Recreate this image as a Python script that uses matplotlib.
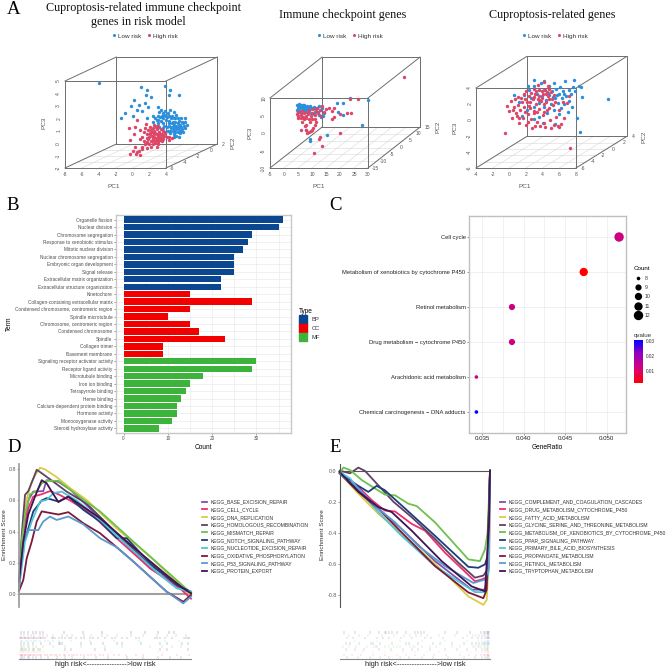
import numpy as np
import matplotlib
matplotlib.use('Agg')
import matplotlib.pyplot as plt
from matplotlib.lines import Line2D
from matplotlib.patches import Patch
from matplotlib.colors import LinearSegmentedColormap, Normalize
from matplotlib.cm import ScalarMappable

plt.rcParams['font.family'] = ['Liberation Sans', 'DejaVu Sans']

# ---- panel A, points read as (PC1, PC3) on the front plane of each box
a1_low = [(-4.0,4.8),(1.0,4.5),(1.8,4.3),(3.9,4.6),(4.5,4.25),(4.4,3.9),(5.5,3.9),(0.2,3.5),(1.6,3.85),(2.2,3.7),
          (-0.2,3.0),(0.8,3.1),(1.5,3.2),(1.9,2.9),(0.6,2.7),(-0.9,2.4),(-1.3,2.0),(0.1,2.2),(1.2,2.6),(1.8,2.0),
          (2.4,2.2),(2.9,1.9),(3.1,2.9),(3.2,2.5),(3.5,2.2),(3.9,2.6),(4.2,2.4),(4.5,2.7),(4.9,2.5),(5.2,2.3),
          (5.4,2.0),(5.8,2.0),(6.3,2.0),(6.5,1.5),(3.0,1.6),(3.4,1.8),(3.7,1.6),(4.0,1.9),(4.3,1.8),(4.6,2.0),
          (4.8,1.7),(5.1,1.7),(5.4,1.6),(5.7,1.5),(6.0,1.6),(4.1,1.3),(4.4,1.4),(4.7,1.3),(5.0,1.3),(5.3,1.2),
          (5.6,1.2),(5.9,1.1),(6.2,1.2),(4.2,1.0),(4.5,1.0),(4.8,1.0),(5.1,0.9),(5.4,0.9),(5.7,0.8),(6.0,0.9),
          (4.9,0.7),(5.2,0.6),(5.5,0.5),(3.6,1.2),(3.9,0.9),(2.5,1.7),(2.7,2.0),(3.3,2.1),(3.6,2.0),(4.0,2.2),
          (4.4,1.6),(4.7,1.6),(5.0,1.5),(5.2,1.4),(5.5,1.4),(5.8,1.3),(6.1,1.4),(4.6,1.2),(4.9,1.1),(5.2,1.1),
          (5.5,1.0),(5.8,1.0),(4.5,0.8),(5.0,0.5),(3.8,1.4),(3.2,1.3),(2.9,1.4),(3.0,2.2),(3.7,2.4),(4.7,2.2),
          (3.4,2.7),(3.8,2.3),(4.1,2.1),(4.4,2.2),(4.9,2.0),(5.1,2.0),(5.6,1.8),(5.9,1.7),(6.2,1.7),(3.1,1.9)]
a1_high = [(-0.4,1.25),(0.55,1.9),(0.36,1.3),(0.87,1.03),(0.16,0.76),(-0.3,0.23),(1.66,1.57),(2.6,1.5),(1.35,0.9),(1.9,1.05),
           (-0.24,-0.84),(0.08,-0.63),(0.75,-0.63),(0.95,-0.98),(0.48,-0.9),(1.15,-0.3),(1.75,-0.4),(2.2,-0.3),(2.93,-0.3),(3.3,0.23),
           (1.7,0.7),(2.0,0.5),(2.3,0.9),(2.6,0.7),(2.9,1.1),(3.2,0.9),(3.5,0.7),(3.8,0.6),(4.1,0.5),(4.4,0.5),
           (4.7,0.4),(2.1,1.3),(2.5,1.2),(2.8,1.3),(3.1,1.4),(3.4,1.1),(2.2,0.2),(2.5,0.3),(2.8,0.4),(3.1,0.5),
           (3.4,0.4),(3.7,0.3),(2.4,-0.1),(2.7,0.0),(3.0,0.1),(1.4,0.2),(1.7,0.1),(1.2,0.5),(0.9,0.3),(2.0,-0.1),
           (1.5,-0.1),(3.3,0.7),(3.6,0.95),(2.6,0.5),(2.9,0.75),(2.3,0.6),(1.9,0.3),(3.0,-0.1),(0.3,-0.3),(0.6,-0.75),
           (3.9,0.85),(4.3,0.25),(2.1,0.85),(1.55,1.2),(2.75,0.15),(3.5,0.15),(2.55,0.95),(3.2,0.3),(1.1,-0.5),(2.35,0.15),
           (2.7,0.85),(3.05,0.65),(3.3,0.5),(3.6,0.55),(2.4,0.45),(2.05,0.7),(1.8,0.45),(2.9,0.25),(3.15,0.75),(2.2,1.05)]

a2_low = [(4.6,7.9),(5.2,8.2),(5.7,7.7),(6.2,8.1),(6.8,7.9),(7.3,8.1),(4.9,7.2),(5.5,7.3),(6.1,7.4),(6.7,7.2),
          (7.2,7.5),(7.8,7.4),(8.3,7.8),(8.9,7.3),(9.4,7.8),(4.6,6.5),(5.2,6.7),(5.8,6.4),(6.4,6.6),(7.0,6.7),
          (7.6,6.5),(8.2,6.9),(8.8,6.6),(9.4,6.8),(10.0,7.1),(10.6,7.5),(11.2,7.2),(11.8,7.0),(12.5,7.6),(13.5,7.2),
          (5.0,5.9),(5.6,6.0),(6.2,5.8),(7.4,5.9),(8.6,5.9),(9.8,5.8),(11.0,6.0),(12.2,6.1),(13.2,6.6),(14.2,5.6),
          (10.6,5.4),(12.6,5.0),(14.0,4.9),(13.2,4.6),(19.0,8.5),(21.0,8.5),(23.4,9.9),(30.0,9.5),(19.2,6.0),(21.0,5.2),
          (27.9,2.2),(15.3,-0.5),(9.3,-1.7),(9.3,-2.4),(8.0,1.0)]
a2_high = [(4.6,5.5),(5.1,4.8),(5.5,6.0),(6.0,5.2),(6.4,6.3),(6.9,4.6),(7.3,5.6),(7.8,4.9),(8.2,6.1),(8.7,5.3),
           (9.1,6.6),(9.6,4.8),(10.0,5.7),(10.5,6.9),(11.0,5.2),(11.4,6.3),(11.9,7.2),(12.3,5.6),(12.8,6.6),(13.2,4.9),
           (13.7,7.6),(14.2,6.1),(15.0,6.9),(16.0,7.1),(17.0,6.4),(18.0,7.0),(17.7,4.5),(17.3,4.1),(20.0,5.3),(24.0,5.6),
           (22.5,5.6),(5.0,4.2),(6.0,4.4),(7.0,4.0),(8.0,4.2),(9.0,3.9),(10.0,4.0),(11.2,4.1),(6.4,3.0),(7.7,2.3),
           (6.1,0.8),(11.5,3.0),(11.0,2.2),(10.5,1.4),(10.0,0.9),(9.5,0.5),(8.9,0.3),(8.3,0.1),(7.9,1.0),(7.5,2.0),
           (23.4,9.8),(26.3,9.8),(43.0,16.0),(20.0,0.0),(13.0,-1.0),(12.4,-1.8),(13.6,-3.6),(10.6,-5.7),(5.0,5.9),(9.4,3.1)]

a3_low = [(0.6,3.1),(1.2,2.2),(1.7,3.1),(2.1,1.3),(2.3,3.7),(2.6,2.7),(2.9,1.6),(3.0,4.2),(3.3,3.3),(3.5,2.1),
          (3.6,0.4),(3.8,4.6),(3.9,3.0),(4.1,1.6),(4.2,3.7),(4.4,2.5),(4.5,0.9),(4.7,4.2),(4.8,3.1),(5.0,2.0),
          (5.1,3.6),(5.3,1.2),(5.4,4.6),(5.5,2.7),(5.6,3.9),(5.8,2.1),(5.9,3.2),(6.0,0.7),(6.1,4.1),(6.2,1.5),
          (6.3,2.7),(6.4,3.6),(6.6,2.0),(6.7,4.9),(6.8,3.0),(7.0,1.0),(7.1,3.8),(7.2,2.4),(7.4,3.3),(7.5,1.6),
          (7.6,4.1),(7.7,5.05),(7.9,3.6),(8.1,0.2),(8.3,4.3),(8.5,-1.54),(8.6,4.1),(8.76,2.82),(11.8,2.57),(5.5,-0.5),
          (4.0,-0.4),(2.9,0.1),(1.5,0.5),(4.6,3.4),(5.2,2.9),(5.7,3.1),(6.5,3.2),(4.2,4.9),(3.0,5.0),(2.2,4.2)]
a3_high = [(-0.48,-1.67),(7.3,-3.56),(-0.28,1.77),(0.0,1.1),(0.2,2.4),(0.3,0.3),(0.5,1.6),(0.7,2.6),(0.8,0.9),(1.0,1.9),
           (1.1,-0.4),(1.3,1.2),(1.4,2.8),(1.6,0.3),(1.7,1.6),(1.8,3.3),(2.0,-0.6),(2.1,2.3),(2.2,0.8),(2.4,3.0),
           (2.5,1.5),(2.7,-1.0),(2.8,2.6),(2.9,3.9),(3.0,0.9),(3.2,2.0),(3.3,-0.3),(3.4,4.4),(3.5,3.0),(3.6,1.4),
           (3.7,-0.7),(3.8,2.4),(3.9,3.6),(4.0,0.6),(4.1,4.7),(4.2,2.0),(4.3,-0.9),(4.4,3.2),(4.5,1.3),(4.6,4.3),
           (4.7,2.6),(4.9,0.0),(5.0,3.5),(5.2,1.9),(5.3,-0.6),(5.5,2.3),(5.6,0.4),(5.8,-0.8),(6.0,1.3),(6.2,-0.5),
           (6.4,2.2),(6.6,0.2),(6.9,2.1),(7.1,3.0),(2.6,3.4),(3.1,3.2),(3.4,2.6),(3.9,2.8),(4.3,3.7),(4.8,3.9),
           (1.5,2.2),(2.3,1.8),(2.9,1.1),(0.9,0.5),(3.6,3.8),(4.6,3.0),(5.1,2.6),(1.9,1.0),(2.6,0.1),(4.1,1.0),
           (1.0,2.9),(1.9,2.6),(2.5,2.2),(3.0,2.9),(3.3,1.0),(3.6,2.5),(4.0,3.2),(4.4,2.3),(4.8,1.5),(5.4,3.1),
           (0.4,1.2),(1.2,0.2),(2.2,-0.2),(3.1,-0.7),(4.1,-0.4),(5.0,-1.0),(6.0,-0.9),(2.0,3.6),(3.2,3.6),(4.5,3.5)]

# ---- panel B
b_terms = ['Organelle fission', 'Nuclear division', 'Chromosome segregation', 'Response to xenobiotic stimulus',
           'Mitotic nuclear division', 'Nuclear chromosome segregation', 'Embryonic organ development', 'Signal release',
           'Extracellular matrix organization', 'Extracellular structure organization', 'Kinetochore',
           'Collagen-containing extracellular matrix', 'Condensed chromosome, centromeric region', 'Spindle microtubule',
           'Chromosome, centromeric region', 'Condensed chromosome', 'Spindle', 'Collagen trimer', 'Basement membrane',
           'Signaling receptor activator activity', 'Receptor ligand activity', 'Microtubule binding', 'Iron ion binding',
           'Tetrapyrrole binding', 'Heme binding', 'Calcium-dependent protein binding', 'Hormone activity',
           'Monooxygenase activity', 'Steroid hydroxylase activity']
b_counts = [36, 35, 29, 28, 27, 25, 25, 25, 22, 22, 15, 29, 15, 10, 15, 17, 23, 9, 9, 30, 29, 18, 15, 14, 13, 12, 12, 11, 8]
b_types = ['BP'] * 10 + ['CC'] * 9 + ['MF'] * 10
b_colors = {'BP': '#0b4690', 'CC': '#f20000', 'MF': '#3cb43c'}

# ---- panel C
c_terms = ['Cell cycle', 'Metabolism of xenobiotics by cytochrome P450', 'Retinol metabolism',
           'Drug metabolism \u2212 cytochrome P450', 'Arachidonic acid metabolism',
           'Chemical carcinogenesis \u2212 DNA adducts']
c_ratio = [0.05147, 0.04722, 0.0386, 0.0386, 0.03433, 0.03433]
c_count = [12, 11, 9, 9, 8, 8]
c_q = [0.0125, 0.002, 0.0125, 0.0125, 0.0125, 0.0305]
c_legend_count = [8, 9, 10, 11, 12]
c_diam = {8: 3.6, 9: 6.2, 10: 7.3, 11: 8.3, 12: 9.4}

# ---- panel D
d_names = ['KEGG_BASE_EXCISION_REPAIR', 'KEGG_CELL_CYCLE', 'KEGG_DNA_REPLICATION', 'KEGG_HOMOLOGOUS_RECOMBINATION',
           'KEGG_MISMATCH_REPAIR', 'KEGG_NOTCH_SIGNALING_PATHWAY', 'KEGG_NUCLEOTIDE_EXCISION_REPAIR',
           'KEGG_OXIDATIVE_PHOSPHORYLATION', 'KEGG_P53_SIGNALING_PATHWAY', 'KEGG_PROTEIN_EXPORT']
gsea_colors = ['#7b52ab', '#ea2f72', '#dccb45', '#5f4362', '#6cc24c', '#1f3d7a', '#4ec6d8', '#7c1a3c', '#5a9ad0', '#3f1450']

d_base = ([0, .025, .054, .083, .141, .161, .229, .297, .393, .568, .762, .955, 1],
          [.08, .40, .60, .657, .66, .73, .72, .67, .57, .38, .165, .026, .005])
d_cell = ([0, .025, .054, .083, .132, .180, .229, .297, .413, .568, .762, .936, 1],
          [.036, .36, .55, .625, .64, .66, .64, .60, .52, .358, .165, .036, -.03])
d_dna = ([.006, .025, .045, .074, .093, .122, .151, .219, .297, .397, .568, .762, .926, 1],
         [.23, .44, .61, .72, .76, .81, .80, .75, .68, .60, .42, .24, .07, -.01])
d_homo = ([0, .016, .035, .054, .083, .103, .132, .2, .277, .393, .568, .762, .955, 1],
          [.058, .38, .636, .66, .74, .797, .775, .72, .657, .58, .39, .186, .036, .005])
d_mismatch = ([0, .016, .035, .064, .103, .132, .161, .229, .297, .393, .471, .665, .926, 1],
              [.015, .34, .51, .64, .66, .71, .726, .726, .67, .59, .53, .336, .08, .005])
d_notch = ([0, .025, .054, .083, .132, .161, .229, .287, .374, .471, .568, .626, .762, .917, 1],
           [.058, .315, .42, .53, .60, .615, .593, .625, .54, .465, .358, .358, .197, .058, .015])
d_nucleo = ([0, .035, .074, .122, .161, .2, .248, .335, .451, .626, .82, .917, 1],
            [.036, .336, .465, .593, .604, .647, .657, .60, .497, .315, .122, .036, .015])
d_oxphos = ([0, .025, .045, .074, .103, .132, .180, .229, .287, .374, .471, .568, .665, .858, .955, 1],
            [.02, .09, .23, .336, .465, .53, .52, .51, .525, .454, .39, .30, .208, .015, -.05, -.006])
d_p53 = ([0, .025, .054, .112, .141, .180, .219, .287, .374, .471, .568, .665, .858, .955, 1],
         [.036, .336, .41, .41, .465, .497, .475, .497, .447, .358, .30, .208, .015, -.06, -.017])
d_export = ([0, .025, .054, .093, .132, .161, .2, .229, .287, .471, .665, .858, .955, 1],
            [.08, .336, .51, .625, .73, .71, .64, .59, .625, .486, .30, .122, .036, .005])
d_curves = [d_base, d_cell, d_dna, d_homo, d_mismatch, d_notch, d_nucleo, d_oxphos, d_p53, d_export]

d_rug_base = [.01,.02,.03,.05,.06,.08,.1,.13,.17,.22,.27,.31,.38,.45,.52,.63,.72,.81,.88,.94]
d_rug_cell = [.005,.01,.015,.02,.03,.035,.04,.05,.06,.065,.07,.08,.09,.1,.11,.12,.13,.15,.16,.18,.19,.21,.22,.24,.26,
              .27,.29,.31,.32,.34,.36,.38,.4,.42,.44,.47,.49,.52,.55,.58,.62,.68,.72,.83,.92,.99]
d_rug_dna = [.005,.015,.025,.03,.04,.05,.06,.07,.08,.09,.1,.11,.12,.14,.26,.28,.54,.81,.84]
d_rug_homo = [.01,.02,.03,.04,.06,.08,.09,.11,.12,.27,.3,.44,.5,.82,.86,.98]
d_rug_mismatch = [.01,.02,.03,.05,.06,.08,.1,.14,.2,.27,.36,.5,.6,.76,.83,.89,.94]
d_rug_notch = [.01,.03,.05,.08,.13,.18,.23,.24,.25,.36,.42,.49,.57,.6,.71,.82,.86,.95,.98]
d_rug_nucleo = [.01,.02,.04,.05,.07,.09,.1,.12,.15,.17,.2,.23,.3,.41,.55,.7,.85,.93]
d_rug_oxphos = [.005,.01,.02,.03,.035,.04,.05,.06,.07,.08,.09,.1,.11,.12,.13,.14,.15,.19,.2,.21,.23,.25,.27,.29,.3,.33,
                .36,.38,.41,.43,.46,.5,.54,.56,.6,.63,.68,.7,.79,.8,.82,.85,.89,.96,.97,.98,.99]
d_rug_p53 = [.01,.03,.05,.07,.09,.12,.14,.16,.2,.25,.28,.31,.38,.42,.48,.51,.57,.65,.72,.8,.86,.91,.97]
d_rug_export = [.01,.03,.05,.08,.1,.12,.14,.26,.37,.48,.65,.73,.81,.87,.9]
d_rugs = [d_rug_base, d_rug_cell, d_rug_dna, d_rug_homo, d_rug_mismatch, d_rug_notch, d_rug_nucleo, d_rug_oxphos, d_rug_p53, d_rug_export]

# ---- panel E
e_names = ['KEGG_COMPLEMENT_AND_COAGULATION_CASCADES', 'KEGG_DRUG_METABOLISM_CYTOCHROME_P450', 'KEGG_FATTY_ACID_METABOLISM',
           'KEGG_GLYCINE_SERINE_AND_THREONINE_METABOLISM', 'KEGG_METABOLISM_OF_XENOBIOTICS_BY_CYTOCHROME_P450',
           'KEGG_PPAR_SIGNALING_PATHWAY', 'KEGG_PRIMARY_BILE_ACID_BIOSYNTHESIS', 'KEGG_PROPANOATE_METABOLISM',
           'KEGG_RETINOL_METABOLISM', 'KEGG_TRYPTOPHAN_METABOLISM']

e_comp = ([0, .124, .235, .412, .634, .878, .967, .994, 1], [-.006, -.126, -.224, -.376, -.583, -.767, -.767, -.615, 0])
e_drug = ([0, .102, .213, .30, .368, .479, .568, .70, .90, .956, .984, 1], [-.017, -.083, -.19, -.257, -.263, -.343, -.387, -.528, -.713, -.698, -.68, 0])
e_fatty = ([0, .124, .257, .479, .70, .856, .956, .978, .993, 1], [-.017, -.148, -.278, -.463, -.659, -.811, -.865, -.833, -.57, 0])
e_glycine = ([0, .069, .124, .169, .246, .357, .479, .634, .789, .90, .956, .984, 1], [0, -.017, .02, -.002, -.083, -.2, -.3, -.44, -.593, -.69, -.676, -.637, 0])
e_xeno = ([0, .024, .069, .146, .235, .30, .368, .457, .512, .634, .856, .933, .967, .984, 1],
          [-.017, .02, .004, -.06, -.115, -.154, -.159, -.213, -.228, -.333, -.572, -.583, -.507, -.398, 0])
e_ppar = ([0, .08, .19, .246, .30, .412, .523, .634, .856, .922, .967, .984, 1], [-.006, -.072, -.137, -.098, -.126, -.224, -.322, -.42, -.62, -.626, -.604, -.55, 0])
e_bile = ([0, .069, .169, .257, .412, .634, .90, .967, .989, 1], [-.01, -.05, -.17, -.267, -.42, -.615, -.783, -.783, -.659, 0])
e_propa = ([0, .124, .257, .412, .634, .856, .956, .978, 1], [-.017, -.137, -.246, -.398, -.615, -.785, -.822, -.767, 0])
e_retinol = ([0, .035, .102, .191, .257, .368, .523, .70, .889, .967, .989, 1], [-.017, -.05, -.093, -.18, -.246, -.333, -.485, -.615, -.724, -.702, -.637, 0])
e_trypto = ([0, .124, .257, .346, .479, .678, .878, .967, .993, 1], [-.01, -.133, -.235, -.267, -.387, -.583, -.746, -.778, -.354, 0])
e_curves = [e_comp, e_drug, e_fatty, e_glycine, e_xeno, e_ppar, e_bile, e_propa, e_retinol, e_trypto]

e_rug_comp = [.05,.12,.2,.27,.33,.4,.46,.55,.62,.72,.83,.9,.95,.97,.98,.99,.995]
e_rug_drug = [.03,.08,.14,.22,.3,.38,.44,.5,.56,.63,.71,.8,.86,.91,.94,.96,.97,.98,.985,.99,.995]
e_rug_fatty = [.15,.22,.3,.35,.42,.5,.58,.66,.72,.81,.87,.92,.95,.97,.98,.985,.99,.995]
e_rug_glycine = [.04,.1,.16,.26,.34,.42,.48,.52,.6,.7,.78,.85,.91,.95,.97,.98,.99]
e_rug_xeno = [.02,.06,.11,.18,.23,.24,.25,.3,.33,.36,.38,.4,.47,.49,.5,.55,.6,.64,.75,.8,.89,.9,.92,.93,.94,.96,.97,.98,.985,.99]
e_rug_ppar = [.04,.07,.13,.21,.22,.27,.35,.44,.46,.52,.62,.67,.75,.83,.88,.91,.93,.95,.96,.97,.98,.99,.995]
e_rug_bile = [.1,.25,.4,.55,.7,.85,.92,.95,.97,.98,.985,.99,.995]
e_rug_propa = [.05,.09,.17,.25,.29,.33,.41,.48,.57,.61,.69,.82,.88,.92,.95,.97,.98,.985,.99,.995]
e_rug_retinol = [.06,.13,.19,.28,.36,.43,.47,.51,.54,.58,.66,.77,.85,.89,.91,.93,.95,.96,.97,.98,.985,.99,.995]
e_rug_trypto = [.03,.1,.2,.26,.3,.31,.33,.35,.38,.44,.5,.52,.54,.56,.7,.78,.87,.94,.96,.97,.98,.985,.99,.995]
e_rugs = [e_rug_comp, e_rug_drug, e_rug_fatty, e_rug_glycine, e_rug_xeno, e_rug_ppar, e_rug_bile, e_rug_propa, e_rug_retinol, e_rug_trypto]

W = 669.0
fig = plt.figure(figsize=(6.69, 6.69), dpi=100)


def axpx(x0, y0, x1, y1):
    return fig.add_axes([x0 / W, 1 - y1 / W, (x1 - x0) / W, (y1 - y0) / W])


def tpx(x, y, s, **kw):
    kw.setdefault('ha', 'center')
    kw.setdefault('va', 'center')
    fig.text(x / W, 1 - y / W, s, **kw)


SERIF = ['Liberation Serif', 'DejaVu Serif']
LOW_C = '#2b8fdb'
HIGH_C = '#de4668'
BOX_C = '#6e6e6e'
TICK_T = '#555555'

for lab, lx, ly in [('A', 14, 9), ('B', 13, 206), ('C', 336, 206), ('D', 14, 448), ('E', 335, 448)]:
    tpx(lx, ly, lab, family=SERIF, fontsize=13.5, color='black')

tpx(143, 8, 'Cuproptosis-related immune checkpoint', family=SERIF, fontsize=8.7, color='#111111')
tpx(138, 22, 'genes in risk model', family=SERIF, fontsize=8.7, color='#111111')
tpx(343, 15, 'Immune checkpoint genes', family=SERIF, fontsize=8.7, color='#111111')
tpx(552, 15, 'Cuproptosis-related genes', family=SERIF, fontsize=8.7, color='#111111')


def box3d(rect, xlim, zlim, depth_x, depth_z, xticks, zticks, yticks, ylabels,
          low, high, legend_x, pc1_at, pc3_at, pc2_at, ylab_step):
    ax = axpx(*rect)
    ax.set_xlim(*xlim)
    ax.set_ylim(*zlim)
    ax.axis('off')
    x0, x1 = xlim
    z0, z1 = zlim
    lw = 0.7
    # floor grid
    for p in yticks:
        ax.plot([x0 + p * depth_x, x1 + p * depth_x], [z0 + p * depth_z] * 2, color='#d8d8d8', lw=0.4, clip_on=False, zorder=1)
    for xt in xticks:
        ax.plot([xt, xt + depth_x], [z0, z0 + depth_z], color='#d8d8d8', lw=0.4, clip_on=False, zorder=1)
    # back face and front face
    for dx, dz in [(depth_x, depth_z), (0, 0)]:
        ax.plot([x0 + dx, x1 + dx, x1 + dx, x0 + dx, x0 + dx], [z0 + dz, z0 + dz, z1 + dz, z1 + dz, z0 + dz],
                color=BOX_C, lw=lw, clip_on=False, zorder=2)
    for xx, zz in [(x0, z0), (x1, z0), (x0, z1), (x1, z1)]:
        ax.plot([xx, xx + depth_x], [zz, zz + depth_z], color=BOX_C, lw=lw, clip_on=False, zorder=2)
    low = np.array(low)
    high = np.array(high)
    ax.scatter(low[:, 0], low[:, 1], s=6, color=LOW_C, lw=0, clip_on=False, zorder=3)
    ax.scatter(high[:, 0], high[:, 1], s=6, color=HIGH_C, lw=0, clip_on=False, zorder=4)
    # tick labels
    for xt in xticks:
        ax.annotate(str(xt), (xt, z0), xytext=(0, -3.2), textcoords='offset points', ha='center', va='top',
                    fontsize=3.6, color=TICK_T, annotation_clip=False)
    for zt in zticks:
        ax.annotate(str(zt), (x0, zt), xytext=(-4.5, 0), textcoords='offset points', ha='center', va='center',
                    fontsize=3.6, color=TICK_T, rotation=90, annotation_clip=False)
    for p, s in zip(yticks, ylabels):
        ax.annotate(s, (x1 + p * depth_x, z0 + p * depth_z), xytext=(ylab_step, 0), textcoords='offset points',
                    ha='center', va='center', fontsize=3.6, color=TICK_T, annotation_clip=False)
    tpx(pc1_at[0], pc1_at[1], 'PC1', fontsize=4.6, color=TICK_T)
    tpx(pc3_at[0], pc3_at[1], 'PC3', fontsize=4.6, color=TICK_T, rotation=90)
    tpx(pc2_at[0], pc2_at[1], 'PC2', fontsize=4.6, color=TICK_T, rotation=90)
    handles = [Line2D([], [], marker='o', ls='', ms=2.2, color=LOW_C, mew=0, label='Low risk'),
               Line2D([], [], marker='o', ls='', ms=2.2, color=HIGH_C, mew=0, label='High risk')]
    fig.legend(handles=handles, loc='center', bbox_to_anchor=(legend_x / W, 1 - 36 / W), ncol=2, frameon=False,
               fontsize=4.6, handletextpad=0.1, columnspacing=0.6, labelcolor='#333333', borderpad=0, handlelength=1.2)


box3d((65, 81, 166, 168), (-8, 4), (-2, 5), 6.1, 1.93, [-8, -6, -4, -2, 0, 2, 4], [-2, -1, 0, 1, 2, 3, 4, 5],
      [0.0, 0.25, 0.5, 0.75, 1.0], ['-6', '-4', '-2', '0', '2'], a1_low, a1_high, 144,
      (114, 186), (44, 123), (233, 143), 4.5)
box3d((270, 98, 368, 168), (-5, 30), (-10, 10), 18.6, 11.7, [-5, 0, 5, 10, 15, 20, 25, 30], [-10, -5, 0, 5, 10],
      [0.0, 1 / 6, 2 / 6, 3 / 6, 4 / 6, 5 / 6, 1.0], ['-15', '-10', '-5', '0', '5', '10', '15'], a2_low, a2_high, 349,
      (319, 186), (250, 133), (438, 127), 5)
box3d((476, 88, 576, 168), (-4, 8), (-6, 4), 6.1, 3.95, [-4, -2, 0, 2, 4, 6, 8], [-6, -4, -2, 0, 2, 4],
      [0.0, 0.2, 0.4, 0.6, 0.8, 1.0], ['-6', '-4', '-2', '0', '2', '4'], a3_low, a3_high, 554,
      (525, 186), (455, 128), (644, 137), 5)

# ---- B
axb = axpx(116, 215, 291, 433)
ypos = np.arange(len(b_terms))
axb.barh(ypos, b_counts, height=0.86, color=[b_colors[t] for t in b_types], zorder=3)
axb.set_ylim(len(b_terms) - 0.5 + 0.12, -0.5 - 0.12)
axb.set_xlim(-1.7, 37.8)
axb.set_yticks(ypos, b_terms)
axb.set_xticks([0, 10, 20, 30])
axb.set_xticks([5, 15, 25, 35], minor=True)
axb.grid(True, which='both', color='#ececec', lw=0.5, zorder=0)
axb.tick_params(axis='both', which='major', labelsize=3.4, labelcolor='#4d4d4d', length=1.5, width=0.4, color='#555555', pad=1)
axb.tick_params(axis='x', which='minor', length=0)
for s in axb.spines.values():
    s.set_color('#c8c8c8')
    s.set_linewidth(1.0)
axb.set_xlabel('Count', fontsize=4.7, labelpad=1.5)
axb.set_ylabel('Term', fontsize=4.7, labelpad=0)
axb.yaxis.set_label_coords((13 - 116) / 175.0, 0.5)
type_handles = [Patch(color=b_colors[k], label=k) for k in b_colors]
leg = fig.legend(handles=type_handles, title='Type', loc='upper left', bbox_to_anchor=(299 / W, 1 - 308 / W), frameon=False,
                 fontsize=4.2, title_fontsize=4.7, handlelength=1.45, handleheight=1.95, labelspacing=0.0, handletextpad=0.7,
                 borderpad=0, borderaxespad=0, labelcolor='#333333')
leg._legend_box.align = 'left'

# ---- C
q_cmap = LinearSegmentedColormap.from_list('q', [(0, '#ff0000'), (0.35, '#d3007c'), (0.7, '#8f00c4'), (1, '#0000ff')])
q_norm = Normalize(0.002, 0.0305)
axc = axpx(469, 216, 626, 433)
axc.scatter(c_ratio, range(len(c_terms)), s=[(c_diam[c] * 0.72) ** 2 for c in c_count], c=c_q, cmap=q_cmap, norm=q_norm,
            lw=0, zorder=3, clip_on=False)
axc.set_xlim(0.03344, 0.0523)
axc.set_ylim(5.6, -0.6)
axc.set_yticks(range(len(c_terms)), c_terms)
axc.set_xticks([0.035, 0.040, 0.045, 0.050], ['0.035', '0.040', '0.045', '0.050'])
axc.set_xticks([0.0375, 0.0425, 0.0475], minor=True)
axc.grid(True, which='both', color='#ececec', lw=0.5, zorder=0)
axc.tick_params(axis='both', which='major', labelsize=4.4, labelcolor='#222222', length=1.5, width=0.4, color='#444444', pad=1)
axc.tick_params(axis='y', labelsize=4.2)
axc.tick_params(axis='x', which='minor', length=0)
for s in axc.spines.values():
    s.set_color('#c0c0c0')
    s.set_linewidth(1.0)
axc.set_xlabel('GeneRatio', fontsize=4.7, labelpad=1.5)
count_handles = [Line2D([], [], marker='o', ls='', color='black', mew=0, ms=c_diam[c] * 0.72, label=str(c)) for c in c_legend_count]
leg = fig.legend(handles=count_handles, title='Count', loc='upper left', bbox_to_anchor=(634 / W, 1 - 266.5 / W), frameon=False,
                 fontsize=3.7, title_fontsize=4.5, labelspacing=0.83, handlelength=1.5, handletextpad=0.6, borderpad=0, borderaxespad=0,
                 labelcolor='#333333')
leg._legend_box.align = 'left'
tpx(634, 335, 'qvalue', fontsize=4.4, ha='left', color='#333333')
cax = axpx(634, 340, 643, 383)
cb = fig.colorbar(ScalarMappable(norm=q_norm, cmap=q_cmap), cax=cax, ticks=[0.01, 0.02, 0.03])
cb.ax.set_yticklabels(['0.01', '0.02', '0.03'])
cb.ax.tick_params(labelsize=3.4, length=0, pad=2, labelcolor='#333333')
cb.outline.set_visible(False)


# ---- D, E
def gsea(x0, x1, ylim, yticks, curves, rugs, names, spine_c, spine_w, zero_w, zero_c, label_x, leg_x, xlabel_x, rug_alpha):
    ax = axpx(x0, 464, x1, 606.7)
    ax.set_xlim(0, 1)
    ax.set_ylim(*ylim)
    handles = []
    ax.axhline(0, color=zero_c, lw=zero_w, zorder=1)
    for (t, es), col, name in zip(curves, gsea_colors, names):
        ax.plot(t, es, color=col, lw=1.3, zorder=2, clip_on=False, solid_joinstyle='round')
        handles.append(Line2D([], [], color=col, lw=1.3, label=name))
    ax.set_yticks(yticks, ['%.1f' % v for v in yticks])
    ax.set_xticks([])
    ax.tick_params(axis='y', labelsize=3.8, labelcolor='#555555', length=1.2, width=0.4, pad=1, color='#555555')
    for s in ['top', 'right', 'bottom']:
        ax.spines[s].set_visible(False)
    ax.spines['left'].set_color(spine_c)
    ax.spines['left'].set_linewidth(spine_w)
    tpx(label_x, 535, 'Enrichment Score', fontsize=4.6, rotation=90, color='#333333')
    fig.legend(handles=handles, loc='upper left', bbox_to_anchor=(leg_x / W, 1 - 499.5 / W), frameon=False, fontsize=3.57,
               handlelength=1.07, handletextpad=0.75, labelspacing=0.54, borderpad=0, borderaxespad=0, labelcolor='#333333')
    rug = axpx(x0, 631, x1, 659)
    rug.set_xlim(0, 1)
    rug.set_ylim(0, 10)
    for i, (hits, col) in enumerate(zip(rugs, gsea_colors)):
        rug.vlines(hits, i, i + 0.9, color=col, lw=0.35, alpha=rug_alpha)
    rug.set_xticks([])
    rug.set_yticks([])
    for s in ['top', 'right', 'left']:
        rug.spines[s].set_visible(False)
    rug.spines['bottom'].set_color('#888888')
    rug.spines['bottom'].set_linewidth(0.8)
    tpx(xlabel_x, 664, 'high risk<---------------->low risk', fontsize=5.3, color='#222222')


gsea(19, 191, (-0.0815, 0.834), [0.0, 0.2, 0.4, 0.6, 0.8], d_curves, d_rugs, d_names, '#999999', 1.2, 1.5, '#a0a0a0', 5, 202, 105, 0.55)
gsea(339.7, 490, (-0.877, 0.043), [0.0, -0.2, -0.4, -0.6, -0.8], e_curves, e_rugs, e_names, '#555555', 0.8, 0.8, '#555555', 322, 500, 415, 0.4)

fig.savefig('out.png', dpi=100)
